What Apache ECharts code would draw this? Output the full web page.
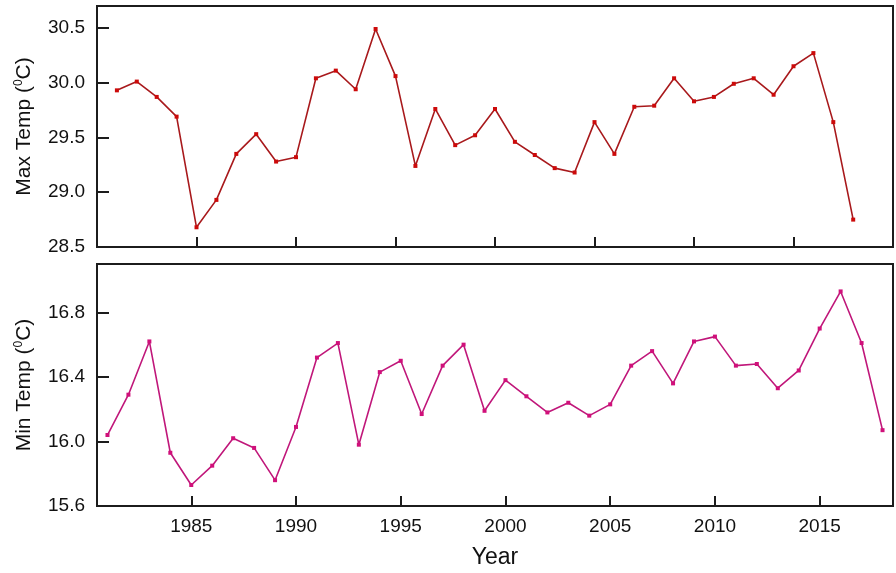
<!DOCTYPE html>
<html>
<head>
<meta charset="utf-8">
<script src="https://cdn.jsdelivr.net/npm/echarts@6/dist/echarts.min.js"></script>
<style>
html,body{margin:0;padding:0;background:#fff;}
#c{width:896px;height:573px;}
</style>
</head>
<body>
<div id="c"></div>
<script>
const years = [1981,1982,1983,1984,1985,1986,1987,1988,1989,1990,1991,1992,1993,1994,1995,1996,1997,1998,1999,2000,2001,2002,2003,2004,2005,2006,2007,2008,2009,2010,2011,2012,2013,2014,2015,2016,2017,2018];
const maxTemp = [29.93,30.01,29.87,29.69,28.68,28.93,29.35,29.53,29.28,29.32,30.04,30.11,29.94,30.49,30.06,29.24,29.76,29.43,29.52,29.76,29.46,29.34,29.22,29.18,29.64,29.35,29.78,29.79,30.04,29.83,29.87,29.99,30.04,29.89,30.15,30.27,29.64,28.75];
const minTemp = [16.04,16.29,16.62,15.93,15.73,15.85,16.02,15.96,15.76,16.09,16.52,16.61,15.98,16.43,16.50,16.17,16.47,16.60,16.19,16.38,16.28,16.18,16.24,16.16,16.23,16.47,16.56,16.36,16.62,16.65,16.47,16.48,16.33,16.44,16.70,16.93,16.61,16.07];
const maxTicks = [28.5,29.0,29.5,30.0,30.5];
const minTicks = [15.6,16.0,16.4,16.8];
const yearTicks = [1985,1990,1995,2000,2005,2010,2015];

const FONT = '"Liberation Sans", Arial, sans-serif';
const frame = '#1c1c1c';

function yAx(gi, min, max, ticks, name) {
  return {
    type: 'value', gridIndex: gi, min: min, max: max,
    name: name, nameLocation: 'middle', nameGap: 62, nameRotate: 90,
    nameTextStyle: {
      fontFamily: FONT, fontSize: 21, color: '#111',
      rich: { s: { fontFamily: FONT, fontSize: 12, color: '#111', padding: [0,0,10,0] } }
    },
    axisLine: { show: true, lineStyle: { color: frame, width: 2 } },
    axisTick: { show: true, inside: true, length: 12, customValues: ticks, lineStyle: { color: frame, width: 2 } },
    axisLabel: { show: true, customValues: ticks, margin: 12, fontFamily: FONT, fontSize: 19, color: '#111',
      formatter: v => Number(v).toFixed(1) },
    splitLine: { show: false }
  };
}
function xAx(gi, min, max, showLabels) {
  return {
    type: 'value', gridIndex: gi, min: min, max: max,
    name: showLabels ? 'Year' : '', nameLocation: 'middle', nameGap: 40,
    nameTextStyle: { fontFamily: FONT, fontSize: 23, color: '#111' },
    axisLine: { show: true, lineStyle: { color: frame, width: 2 } },
    axisTick: { show: true, inside: true, length: 10, customValues: yearTicks, lineStyle: { color: frame, width: 2 } },
    axisLabel: { show: showLabels, customValues: yearTicks, margin: 11, fontFamily: FONT, fontSize: 19, color: '#111',
      formatter: v => String(v) },
    splitLine: { show: false }
  };
}

const chart = echarts.init(document.getElementById('c'), null, { renderer: 'canvas' });
chart.setOption({
  animation: false,
  backgroundColor: '#fff',
  grid: [
    { left: 97, top: 6, width: 796, height: 241, show: true, borderColor: frame, borderWidth: 2, backgroundColor: 'transparent' },
    { left: 97, top: 264, width: 796, height: 242, show: true, borderColor: frame, borderWidth: 2, backgroundColor: 'transparent' }
  ],
  xAxis: [ xAx(0, 1980, 2020, false), xAx(1, 1980.5, 2018.5, true) ],
  yAxis: [ yAx(0, 28.5, 30.7, maxTicks, 'Max Temp ({s|0}C)'), yAx(1, 15.6, 17.1, minTicks, 'Min Temp ({s|0}C)') ],
  series: [
    { type: 'line', xAxisIndex: 0, yAxisIndex: 0, data: years.map((y, i) => [y, maxTemp[i]]),
      symbol: 'rect', symbolSize: 4, showSymbol: true,
      lineStyle: { color: '#a8191c', width: 1.6 }, itemStyle: { color: '#cc0a0a' } },
    { type: 'line', xAxisIndex: 1, yAxisIndex: 1, data: years.map((y, i) => [y, minTemp[i]]),
      symbol: 'rect', symbolSize: 4, showSymbol: true,
      lineStyle: { color: '#c0177a', width: 1.6 }, itemStyle: { color: '#d0107a' } }
  ]
});
</script>
</body>
</html>
